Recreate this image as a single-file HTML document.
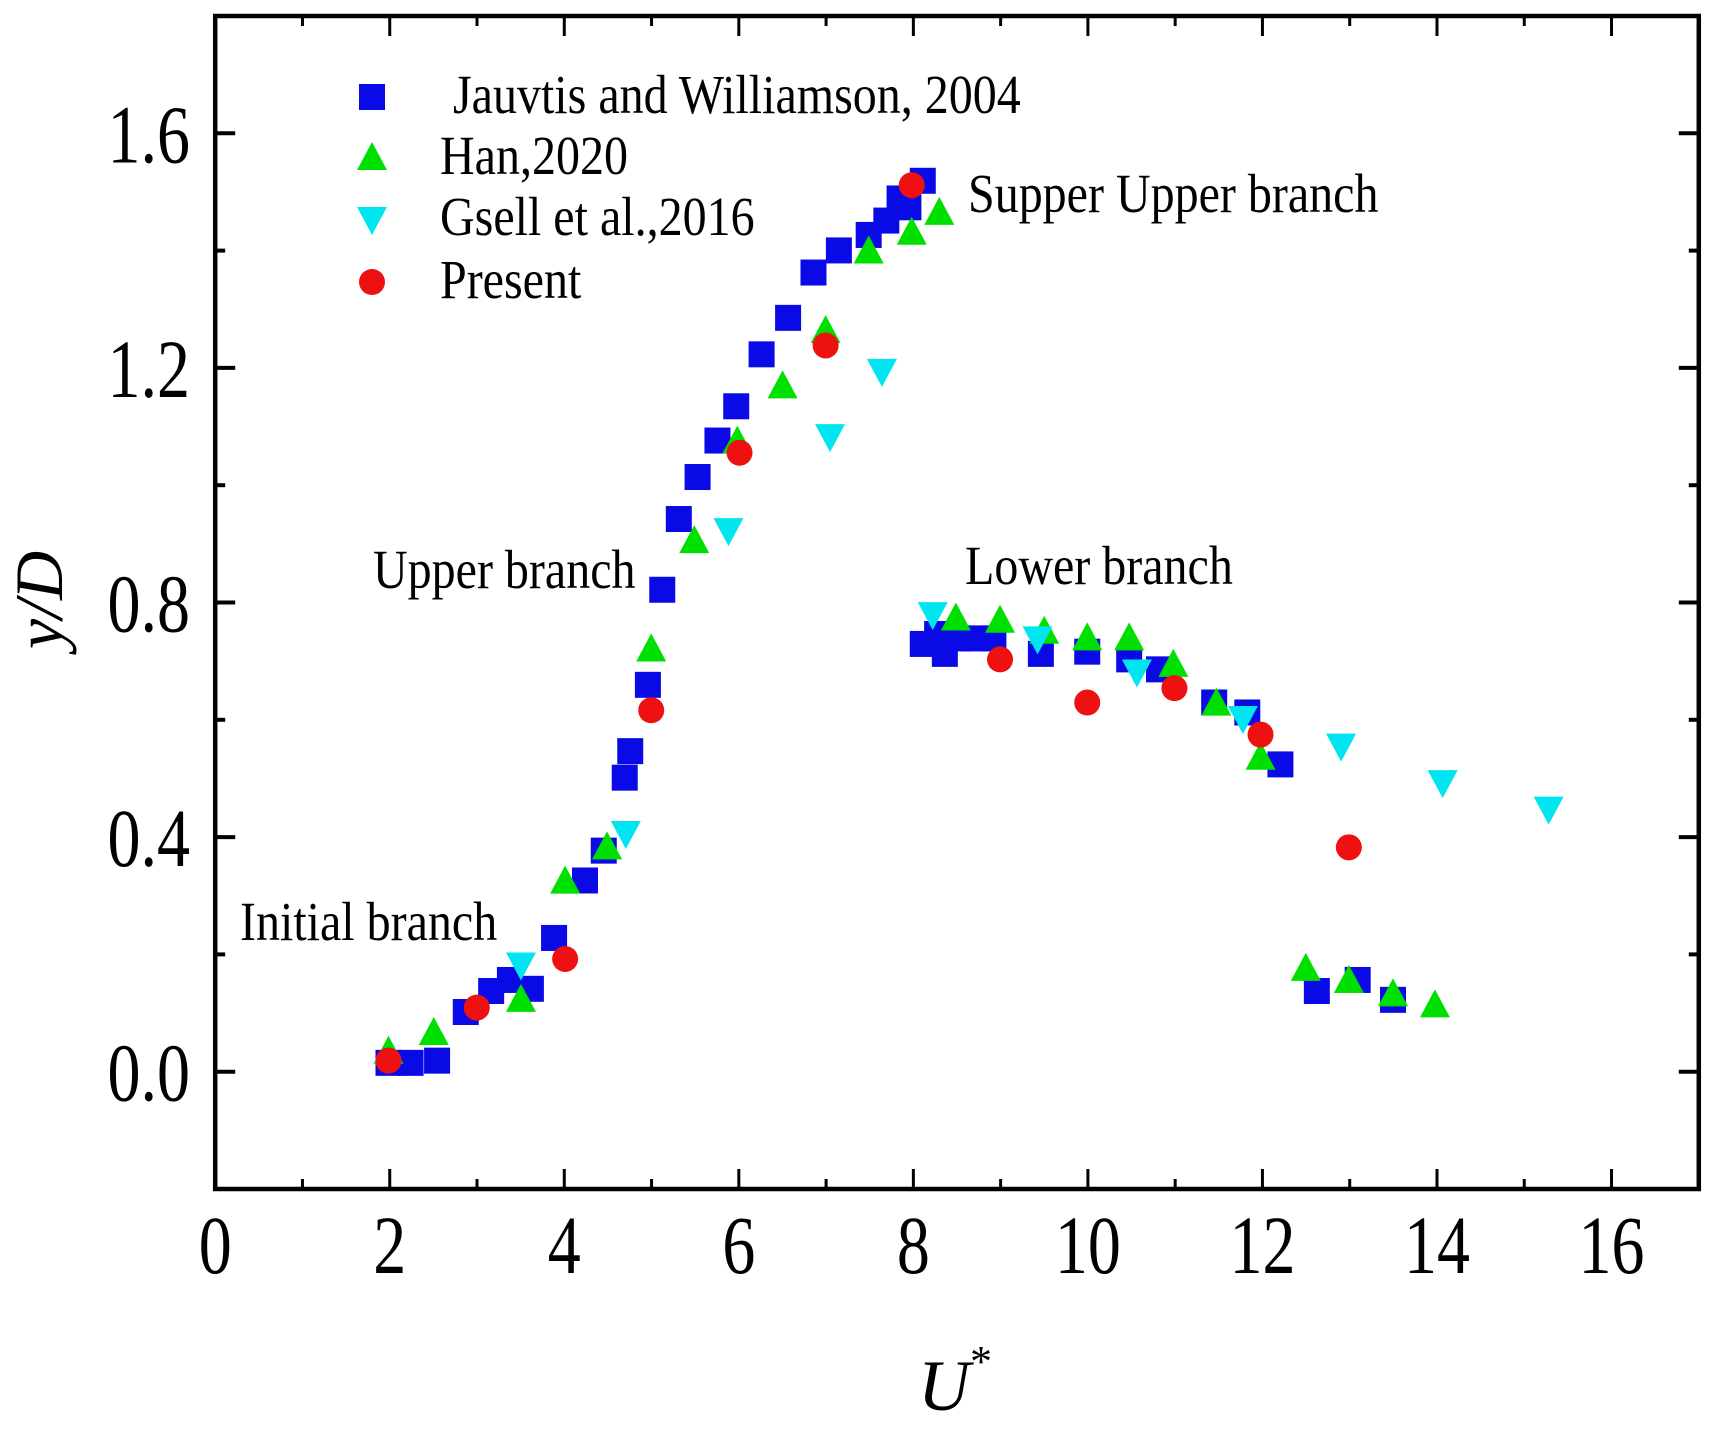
<!DOCTYPE html>
<html><head><meta charset="utf-8"><style>
html,body{margin:0;padding:0;background:#fff;}
svg text{font-family:"Liberation Serif",serif;fill:#000;}
</style></head><body>
<svg id="s" width="1730" height="1432" viewBox="0 0 1730 1432" xmlns="http://www.w3.org/2000/svg"></svg>
<script>
var s=document.getElementById('s');var h='';
var X0=215.2,XU=87.27,Y0=1071.7,YU=586.5;
function px(u){return X0+u*XU;} function py(v){return Y0-v*YU;}
function dx(x){return px((x-195)/79.06);} function dy(y){return py((970-y)/530.6);}
var L=px(0),R=px(17),T=py(1.8),B=py(-0.2);
h+='<rect x="'+L+'" y="'+T+'" width="'+(R-L)+'" height="'+(B-T)+'" fill="none" stroke="#000" stroke-width="4.5"/>';
for(var u=0;u<=17;u++){var x=px(u),len=(u%2==0)?20:10;
 h+='<line x1="'+x+'" y1="'+B+'" x2="'+x+'" y2="'+(B-len)+'" stroke="#000" stroke-width="3"/>';
 h+='<line x1="'+x+'" y1="'+T+'" x2="'+x+'" y2="'+(T+len)+'" stroke="#000" stroke-width="3"/>';
 if(u%2==0)h+='<text transform="translate('+x+',1273) scale(1,1.25)" font-size="66" text-anchor="middle">'+u+'</text>';}
for(var k=-1;k<=9;k++){var v=k*0.2,y=py(v),len=(k%2==0)?20:10;
 h+='<line x1="'+L+'" y1="'+y+'" x2="'+(L+len)+'" y2="'+y+'" stroke="#000" stroke-width="4"/>';
 h+='<line x1="'+R+'" y1="'+y+'" x2="'+(R-len)+'" y2="'+y+'" stroke="#000" stroke-width="4"/>';
 if(k%2==0&&k>=0&&k<=8)h+='<text transform="translate(190,'+(y+29)+') scale(1,1.25)" font-size="66" text-anchor="end">'+v.toFixed(1)+'</text>';}
h+='<text x="955" y="1410" font-size="72" font-style="italic" text-anchor="middle">U<tspan font-size="44" dy="-34" font-style="normal">*</tspan></text>';
h+='<text transform="translate(62,600) rotate(-90)" font-size="68" font-style="italic" text-anchor="middle">y/D</text>';
function sq(x,y){return '<rect x="'+(x-13)+'" y="'+(y-13)+'" width="26" height="26" fill="#0a0ae6"/>';}
function tu(x,y){return '<polygon points="'+x+','+(y-16)+' '+(x-15)+','+(y+12)+' '+(x+15)+','+(y+12)+'" fill="#00e000"/>';}
function td(x,y){return '<polygon points="'+x+','+(y+16)+' '+(x-15)+','+(y-12)+' '+(x+15)+','+(y-12)+'" fill="#00e5f0"/>';}
function ci(x,y){return '<circle cx="'+x+'" cy="'+y+'" r="13" fill="#ee1111"/>';}
var B1=[[352,962],[372,962],[396,960],[422,916],[445,897],[462,887],[481,895],[502,849],[530,797],[547,770],[566,704],[571,680],[587,620],[600,534],[615,470],[632,432],[650,399],[667,368],[690,321],[714,288],[737,247],[760,227],[787,213],[803,200],[815,180],[823,188],[836,164],[836,583],[856,592],[849,574],[868,578],[882,578],[900,578],[943,592],[985,590],[1023,597],[1050,606],[1100,636],[1130,645],[1160,692],[1193,897],[1230,887],[1262,905]];
var G=[[352,952],[393,935],[472,905],[512,798],[550,767],[590,588],[629,490],[668,400],[709,350],[748,300],[787,228],[826,211],[851,193],[866,560],[906,562],[946,572],[985,578],[1023,578],[1063,602],[1102,637],[1142,686],[1183,877],[1222,888],[1262,900],[1300,910]];
var C=[[472,873],[567,754],[660,480],[752,395],[799,336],[845,556],[940,578],[1030,608],[1126,650],[1215,675],[1307,708],[1403,732]];
var Rd=[[352,960],[432,912],[512,868],[590,643],[670,410],[748,313],[826,168],[906,597],[985,636],[1064,623],[1142,665],[1222,767]];
B1.forEach(function(p){h+=sq(dx(p[0]),dy(p[1]));});
G.forEach(function(p){h+=tu(dx(p[0]),dy(p[1]));});
C.forEach(function(p){h+=td(dx(p[0]),dy(p[1]));});
Rd.forEach(function(p){h+=ci(dx(p[0]),dy(p[1]));});
var ly=[97,158,219,282],labs=['Jauvtis and Williamson, 2004','Han,2020','Gsell et al.,2016','Present'],fs=[sq,tu,td,ci];
for(var i=0;i<4;i++){h+=fs[i](372,ly[i]);h+='<text transform="translate('+(i==0?453:440)+','+(ly[i]+16)+') scale(1,1.15)" font-size="48">'+labs[i]+'</text>';}
function ann(x,y,t){h+='<text transform="translate('+x+','+y+') scale(1,1.15)" font-size="48">'+t+'</text>';}
ann(968,212,'Supper Upper branch');
ann(373,588,'Upper branch');
ann(965,584,'Lower branch');
ann(240,940,'Initial branch');
s.innerHTML=h;
</script>
</body></html>
